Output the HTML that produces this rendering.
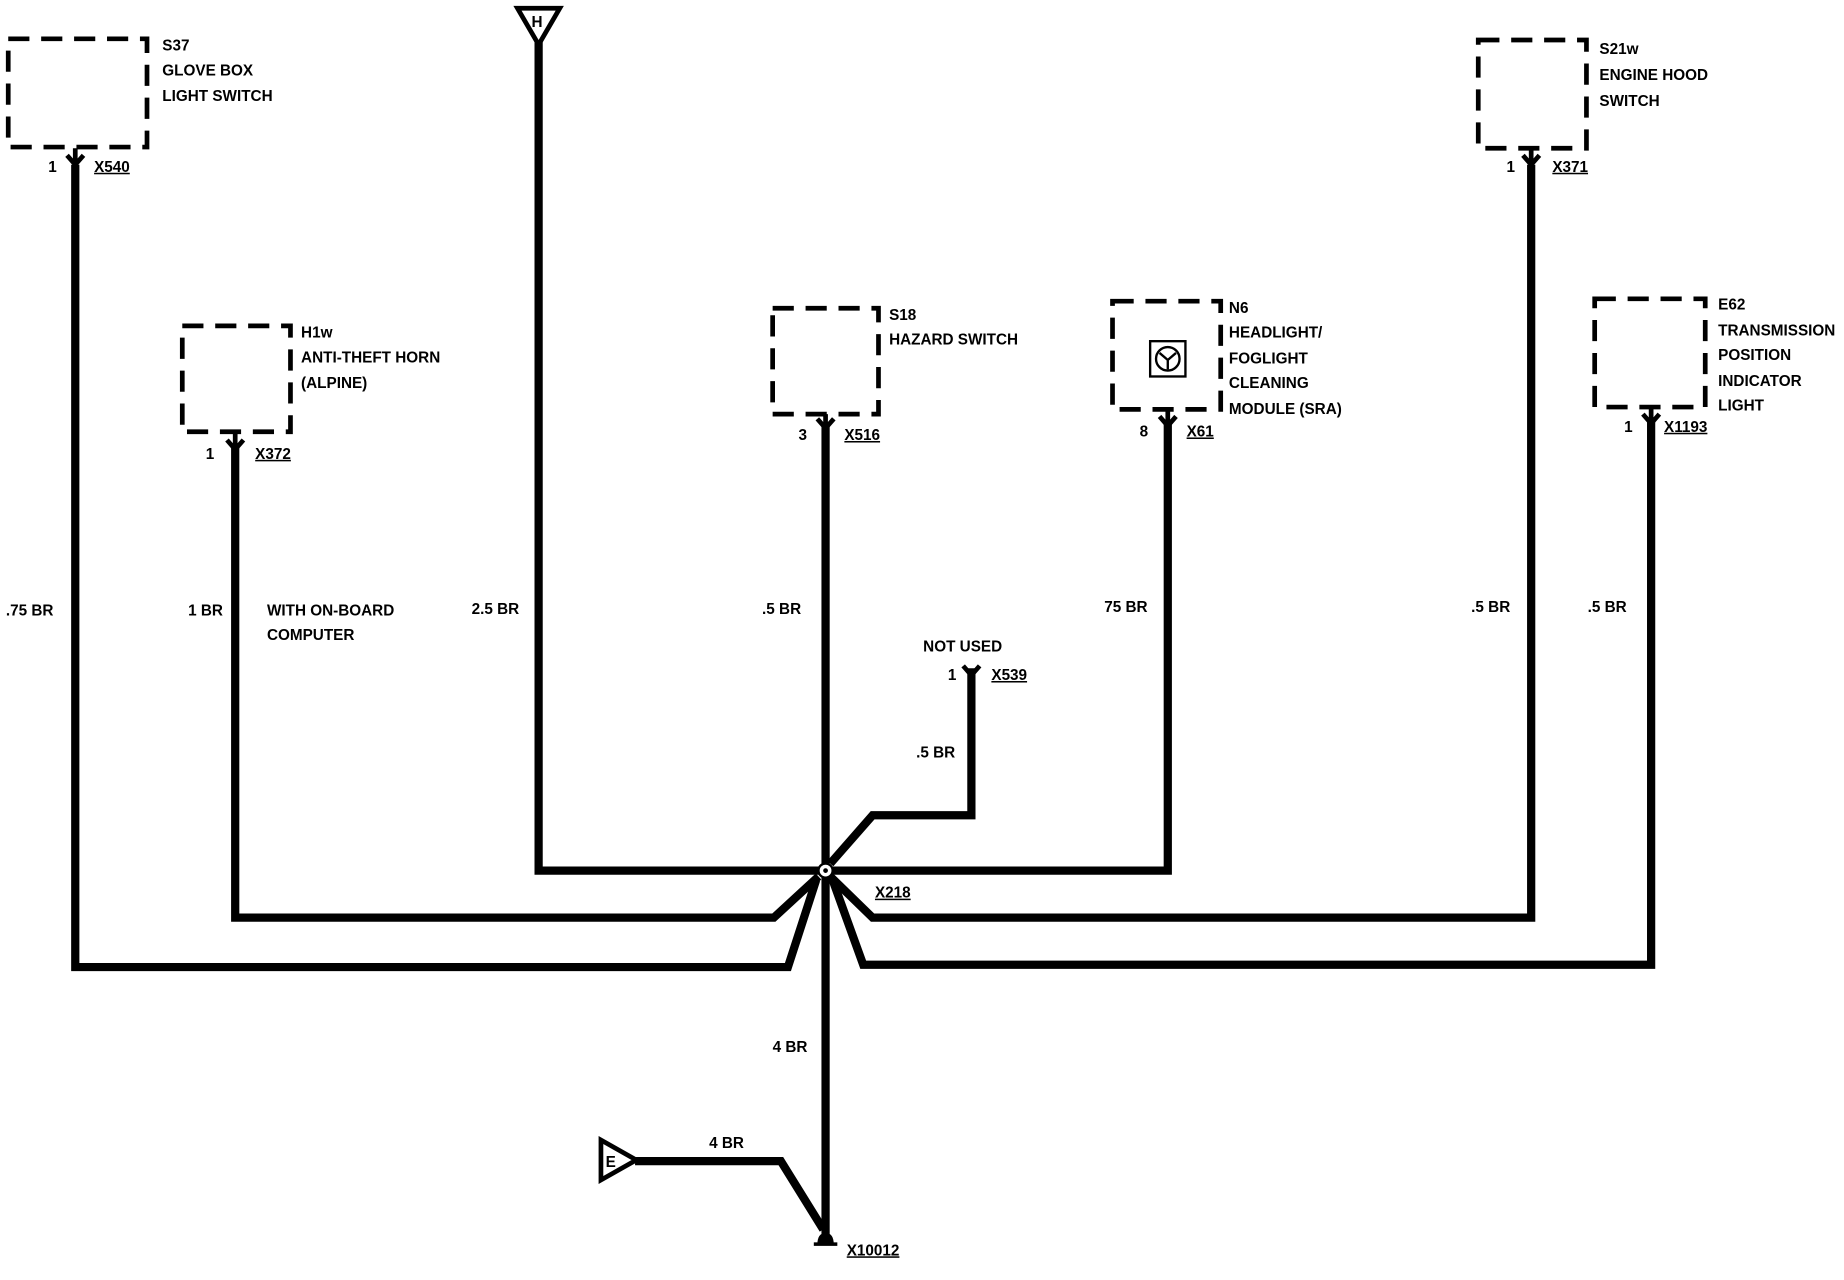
<!DOCTYPE html>
<html><head><meta charset="utf-8"><style>
html,body{margin:0;padding:0;background:#fff}
svg{display:block}
text{font-family:"Liberation Sans",Arial,sans-serif;font-size:13px;font-weight:bold;fill:#000}
</style></head><body>
<svg width="1844" height="1280" viewBox="0 0 1568 1088" preserveAspectRatio="none" xmlns="http://www.w3.org/2000/svg">
<g fill="none" stroke="#000" stroke-width="4" stroke-dasharray="18,10">
<rect x="7" y="33" width="118" height="92"/>
<rect x="155" y="277" width="92" height="90"/>
<rect x="657" y="262" width="90" height="90"/>
<rect x="946" y="256" width="92" height="92"/>
<rect x="1257" y="34" width="92" height="92"/>
<rect x="1356" y="254" width="94" height="92"/>
</g>
<g fill="none" stroke="#000" stroke-width="7" stroke-linejoin="miter">
<polyline points="64,140 64,822 670,822 694,748"/>
<polyline points="200,380 200,780 658,780 696,745"/>
<polyline points="458,30 458,740 702,740"/>
<polyline points="702,362 702,1050"/>
<polyline points="826,568 826,693 742,693 706,734"/>
<polyline points="993,360 993,740 702,740"/>
<polyline points="1302,140 1302,780 742,780 706,745"/>
<polyline points="1404,358 1404,820 734,820 708,748"/>
<polyline points="540,987 664,987 700,1045"/>
</g>
<!-- connector forks -->
<g fill="none" stroke="#000" stroke-width="4">
<path d="M57,132 L64,140 L71,132 M64,126 V140"/>
<path d="M193,374 L200,382 L207,374 M200,367 V382"/>
<path d="M695,356 L702,364 L709,356 M702,352 V364"/>
<path d="M986,354 L993,362 L1000,354 M993,348 V362"/>
<path d="M1295,132 L1302,140 L1309,132 M1302,126 V140"/>
<path d="M1397,352 L1404,360 L1411,352 M1404,346 V360"/>
<path d="M819,566 L826,574 L833,566"/>
</g>
<!-- H triangle -->
<path d="M440,7 L476,7 L458,38 Z" fill="#fff" stroke="#000" stroke-width="4"/>
<text x="452" y="23" font-size="11">H</text>
<!-- E triangle -->
<path d="M511,969 L511,1003 L541,986 Z" fill="#fff" stroke="#000" stroke-width="4"/>
<text x="515" y="992" font-size="11">E</text>
<!-- splice -->
<circle cx="702" cy="740" r="6" fill="#fff" stroke="#000" stroke-width="2"/>
<circle cx="702" cy="740" r="2" fill="#000"/>
<!-- ground -->
<path d="M695,1058 Q695,1048 702,1048 Q709,1048 709,1058 Z" fill="#000"/>
<rect x="692" y="1056" width="20" height="3" fill="#000"/>
<!-- N6 symbol -->
<rect x="978" y="290" width="30" height="30" fill="none" stroke="#000" stroke-width="2"/>
<circle cx="993" cy="305" r="10" fill="none" stroke="#000" stroke-width="2"/>
<path d="M986,300 L993,306 L1000,300 M993,306 V314" stroke="#000" stroke-width="2" fill="none"/>
<g>
<text x="138" y="43">S37</text><text x="138" y="64">GLOVE BOX</text><text x="138" y="86">LIGHT SWITCH</text>
<text x="41" y="146">1</text><text x="80" y="146" text-decoration="underline">X540</text>
<text x="256" y="287">H1w</text><text x="256" y="308">ANTI-THEFT HORN</text><text x="256" y="330">(ALPINE)</text>
<text x="175" y="390">1</text><text x="217" y="390" text-decoration="underline">X372</text>
<text x="756" y="272">S18</text><text x="756" y="293">HAZARD SWITCH</text>
<text x="679" y="374">3</text><text x="718" y="374" text-decoration="underline">X516</text>
<text x="1045" y="266">N6</text><text x="1045" y="287">HEADLIGHT/</text><text x="1045" y="309">FOGLIGHT</text><text x="1045" y="330">CLEANING</text><text x="1045" y="352">MODULE (SRA)</text>
<text x="969" y="371">8</text><text x="1009" y="371" text-decoration="underline">X61</text>
<text x="1360" y="46">S21w</text><text x="1360" y="68">ENGINE HOOD</text><text x="1360" y="90">SWITCH</text>
<text x="1281" y="146">1</text><text x="1320" y="146" text-decoration="underline">X371</text>
<text x="1461" y="263">E62</text><text x="1461" y="285">TRANSMISSION</text><text x="1461" y="306">POSITION</text><text x="1461" y="328">INDICATOR</text><text x="1461" y="349">LIGHT</text>
<text x="1381" y="367">1</text><text x="1415" y="367" text-decoration="underline">X1193</text>
<text x="5" y="523">.75 BR</text>
<text x="160" y="523">1 BR</text>
<text x="227" y="523">WITH ON-BOARD</text><text x="227" y="544">COMPUTER</text>
<text x="401" y="522">2.5 BR</text>
<text x="648" y="522">.5 BR</text>
<text x="939" y="520">75 BR</text>
<text x="1251" y="520">.5 BR</text>
<text x="1350" y="520">.5 BR</text>
<text x="785" y="554">NOT USED</text>
<text x="806" y="578">1</text><text x="843" y="578" text-decoration="underline">X539</text>
<text x="779" y="644">.5 BR</text>
<text x="744" y="763" text-decoration="underline">X218</text>
<text x="657" y="894">4 BR</text>
<text x="603" y="976">4 BR</text>
<text x="720" y="1067" text-decoration="underline">X10012</text>
</g>
</svg>
</body></html>
